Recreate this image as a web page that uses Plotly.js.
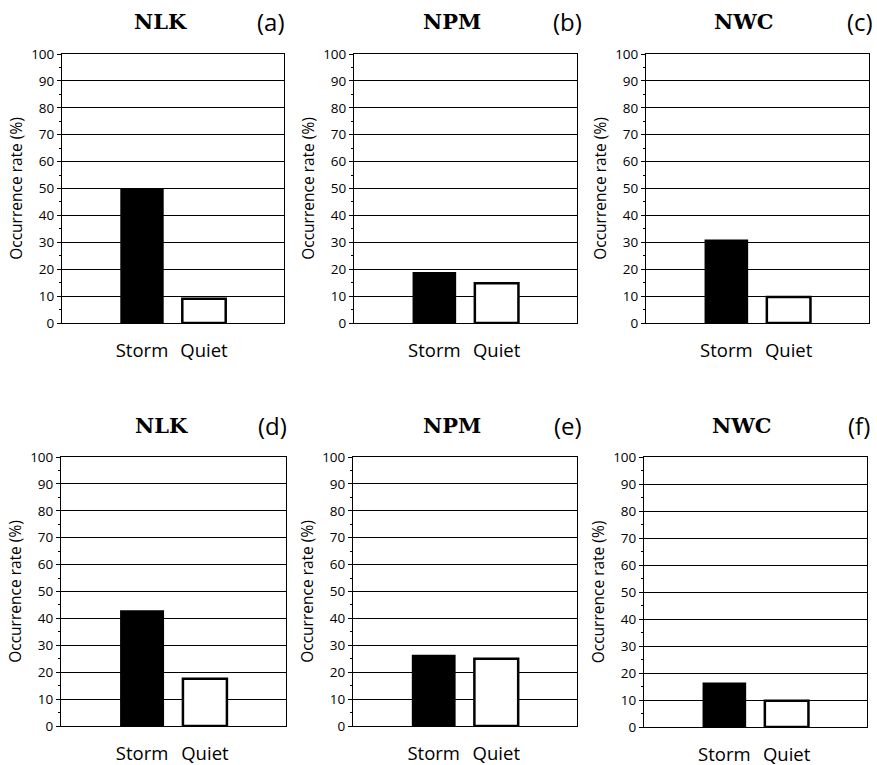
<!DOCTYPE html>
<html>
<head>
<meta charset="utf-8">
<script src="https://cdn.plot.ly/plotly-3.0.1.min.js"></script>
<style>html,body{margin:0;padding:0;background:#fff;}#chart{width:877px;height:765px;}</style>
</head>
<body>
<div id="chart"></div>
<script>
// Data
const categories = ["Storm", "Quiet"];
const stations = ["NLK", "NPM", "NWC", "NLK", "NPM", "NWC"];
const panelLabels = ["(a)", "(b)", "(c)", "(d)", "(e)", "(f)"];
const stormValues = [50, 19, 31, 43, 26.5, 16.5];
const quietValues = [9, 14.8, 9.7, 17.6, 25, 9.7];
const yTickValues = [0, 10, 20, 30, 40, 50, 60, 70, 80, 90, 100];

const W = 877, H = 765;
const SANS = "'Open Sans', 'Noto Sans', sans-serif";
const xDomainsPx = [[62, 284], [354, 577], [646, 869], [61, 286], [353, 577], [644, 867]];
const yDomainsPx = [[54, 323], [54, 323], [54, 323], [457, 726], [457, 726], [457, 727]];
const titleX = [160, 452, 744, 161, 452, 742];
const labelX = [271, 567, 860, 272, 568, 859];
const titleY = [21, 21, 21, 425, 425, 425];

const data = [];
const layout = {
  width: W, height: H,
  margin: {l: 0, r: 0, t: 0, b: 0},
  paper_bgcolor: "#fff", plot_bgcolor: "#fff",
  showlegend: false,
  font: {family: SANS, color: "#000"},
  annotations: []
};

for (let i = 0; i < 6; i++) {
  const n = i + 1;
  const xa = n === 1 ? "x" : "x" + n;
  const ya = n === 1 ? "y" : "y" + n;
  data.push({
    type: "bar",
    x: categories,
    y: [stormValues[i], quietValues[i]],
    xaxis: xa, yaxis: ya,
    width: 0.7,
    marker: {color: ["#000", "#fff"], line: {color: "#000", width: [0, 2.5]}},
    hoverinfo: "none"
  });
  const xd = xDomainsPx[i], yd = yDomainsPx[i];
  layout["xaxis" + (n === 1 ? "" : n)] = {
    domain: [xd[0] / W, xd[1] / W],
    anchor: ya,
    type: "category",
    range: [-1.29, 2.29],
    showgrid: false,
    zeroline: false,
    showline: true, linecolor: "#000", linewidth: 1, mirror: true,
    ticks: "",
    ticklabelstandoff: 11,
    tickfont: {size: 18.5, family: SANS, color: "#000"},
    fixedrange: true
  };
  layout["yaxis" + (n === 1 ? "" : n)] = {
    domain: [1 - yd[1] / H, 1 - yd[0] / H],
    anchor: xa,
    range: [0, 100],
    tickvals: yTickValues,
    ticktext: yTickValues.map(String),
    showgrid: true, gridcolor: "#000", gridwidth: 1,
    zeroline: false,
    showline: true, linecolor: "#000", linewidth: 1, mirror: true,
    ticks: "outside", ticklen: 4, tickcolor: "#000", tickwidth: 1,
    minor: {dtick: 5, ticks: "outside", ticklen: 2.5, tickcolor: "#000", showgrid: false},
    tickfont: {size: 13.5, family: SANS, color: "#000"},
    title: {text: "Occurrence rate (%)", font: {size: 15.5, family: SANS, color: "#000"}, standoff: 4},
    fixedrange: true
  };
  layout.annotations.push({
    xref: "paper", yref: "paper",
    x: titleX[i] / W, y: 1 - titleY[i] / H,
    xanchor: "center", yanchor: "middle",
    text: "<b>" + stations[i] + "</b>",
    showarrow: false,
    font: {size: 21, family: "'DejaVu Serif', 'Liberation Serif', serif", color: "#000"}
  });
  layout.annotations.push({
    xref: "paper", yref: "paper",
    x: labelX[i] / W, y: 1 - titleY[i] / H,
    xanchor: "center", yanchor: "middle",
    text: panelLabels[i],
    showarrow: false,
    font: {size: 24, family: SANS, color: "#000"}
  });
}

Plotly.newPlot("chart", data, layout, {displayModeBar: false, staticPlot: true});
</script>
</body>
</html>
